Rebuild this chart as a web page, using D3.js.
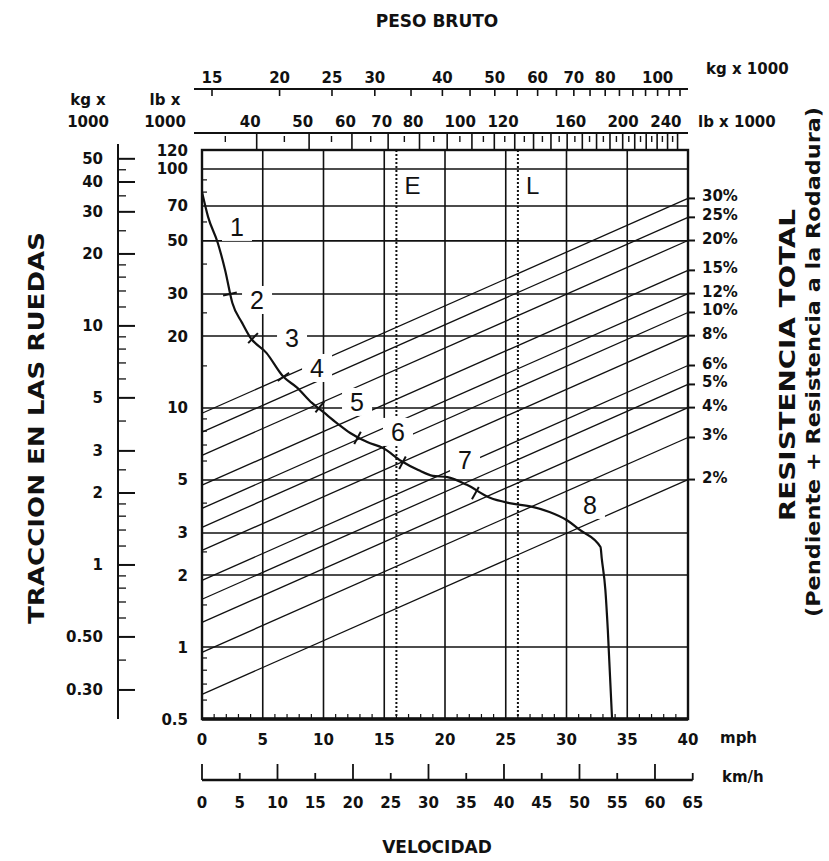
<!DOCTYPE html>
<html><head><meta charset="utf-8">
<script src="https://cdn.jsdelivr.net/npm/d3@7"></script>
<style>body{margin:0;background:#fff}svg{display:block}</style>
</head><body><svg id="c" width="829" height="861"></svg>
<script>
// ---------------- data ----------------
const LB_PER_KG = 2.20462, KMH_PER_MPH = 1.609344;
const mphTicks = [0,5,10,15,20,25,30,35,40];
const mphGrid = [5,10,15,20,25,30,35];
const mphMinor = [1,2,3,4,6,7,8,9,11,12,13,14,16,17,18,19,21,22,23,24,26,27,28,29,31,32,33,34,36,37,38,39];
const kmhTicks = [0,5,10,15,20,25,30,35,40,45,50,55,60,65];
const kmhLong = [0,10,20,30,40,50,60];
const rimGrid = [100,70,50,30,20,10,5,3,2,1];
const rimLabels = [120,100,70,50,30,20,10,5,3,2,1,0.5];
const rimMinor = [0.6,0.7,0.8,0.9,1.5,2.5,4,6,7,8,9,15,25,40,60,80,90];
const kgRimLabels = [50,40,30,20,10,5,3,2,1,0.5,0.3];
const kgRimText = ["50","40","30","20","10","5","3","2","1","0.50","0.30"];
const kgRimMinor = [0.4,0.6,0.7,0.8,0.9,1.2,1.4,1.6,1.8,2.5,4,6,7,8,9,12,14,16,18,25,35,45];
const kgWeightTicks = [15,20,25,30,35,40,45,50,55,60,65,70,75,80,85,90,95,100,105,110];
const kgWeightLabels = [15,20,25,30,40,50,60,70,80,100];
const lbWeightMajor = [40,50,60,70,80,90,100,110,120,130,140,150,160,170,180,190,200,210,220,230,240];
const lbWeightMinor = [35,45,55,65,75,85,95,105,115,125,135,145,155,165,175,185,195,205,215,225,235];
const lbWeightLabels = [40,50,60,70,80,100,120,160,200,240];
const grades = [30,25,20,15,12,10,8,6,5,4,3,2];
const curveMph = [0,0.5,1.3,1.9,2.5,3.3,3.95,5.3,6.7,7.8,9.05,10.0,11.1,12.2,13.6,14.9,16.4,17.8,19.0,20.2,21.8,23.7,25.3,27.2,28.6,30.0,31.1,32.8,32.9,33.2,33.4,33.75];
const curveRim = [80,63,49,37.8,27.5,22.7,19.8,17.0,13.5,12.2,10.5,9.6,8.65,7.86,7.2,6.8,6.0,5.5,5.2,5.14,4.77,4.21,4.0,3.86,3.67,3.4,3.09,2.62,2.35,1.73,1.18,0.5];
const gearNames = ["1","2","3","4","5","6","7","8"];
const gearMph = [2.88,4.53,7.41,9.47,12.76,16.13,21.65,31.93];
const gearRim = [57.2,28.3,19.6,14.7,10.6,7.94,6.06,3.93];
const shiftMph = [2.3,4.2,6.7,9.7,12.8,16.5,22.5];
const shiftRim = [30,19.6,13.5,10.1,7.5,5.9,4.4];
const loadNames = ["E","L"];
const loadMph = [16,26];
const loadLabelRim = 85;

// ---------------- scales ----------------
const x = d3.scaleLinear().domain([0,40]).range([202,688]);
const xKmh = d3.scaleLinear().domain([0,40*KMH_PER_MPH]).range([202,688]);
const yR = d3.scaleLog().domain([0.5,120]).range([719,150]);
const yKg = d3.scaleLog().domain([0.5/LB_PER_KG,120/LB_PER_KG]).range([719,150]);
const xKg = d3.scaleLog().domain([15,110]).range([212,680]);
const xLb = d3.scaleLog().domain([15*LB_PER_KG,110*LB_PER_KG]).range([212,680]);

const FONT = "'DejaVu Sans', Verdana, sans-serif";
const FONT2 = "'Liberation Sans', Arial, sans-serif";
const INK = "#111";
const svg = d3.select("#c");
const L = x(0), R = x(40), T = yR(120), B = yR(0.5);

function txt(p, xx, yy, s, size, opt={}) {
  return p.append("text").attr("x",xx).attr("y",yy).text(s)
    .attr("font-family", opt.family||FONT).attr("font-size",size)
    .attr("font-weight", opt.weight||"bold").attr("fill",INK)
    .attr("text-anchor", opt.anchor||"middle");
}

// ---------------- grid ----------------
const grid = svg.append("g").attr("stroke",INK).attr("stroke-width",1.6);
grid.selectAll(".v").data(mphGrid).join("line")
  .attr("x1",d=>x(d)).attr("x2",d=>x(d)).attr("y1",T).attr("y2",B);
grid.selectAll(".h").data(rimGrid).join("line")
  .attr("x1",L).attr("x2",R).attr("y1",d=>yR(d)).attr("y2",d=>yR(d));
svg.append("g").selectAll("line").data(loadMph).join("line")
  .attr("x1",d=>x(d)).attr("x2",d=>x(d)).attr("y1",T).attr("y2",B)
  .attr("stroke",INK).attr("stroke-width",2).attr("stroke-dasharray","2,2");

// grade lines: rimpull = gross weight * grade
const gradeLine = g => d3.line()
  .x(m=>x(m)).y(m=>yR(xLb.invert(x(m))*g/100));
svg.append("g").selectAll("path").data(grades).join("path")
  .attr("d",g=>gradeLine(g)([0,40])).attr("fill","none")
  .attr("stroke",INK).attr("stroke-width",1.3);

// label backgrounds (gaps in lines)
const gl = svg.append("g");
gearNames.forEach((n,i)=>{
  const cx = x(gearMph[i]), cy = yR(gearRim[i]);
  gl.append("rect").attr("x",cx-15).attr("y",cy-14).attr("width",30).attr("height",28).attr("fill","#fff");
});

// curve
svg.append("path").datum(curveMph.map((m,i)=>[m,curveRim[i]]))
  .attr("d",d3.line().x(d=>x(d[0])).y(d=>yR(d[1])).curve(d3.curveMonotoneX))
  .attr("fill","none").attr("stroke",INK).attr("stroke-width",2.2);
// shift marks
shiftMph.forEach((m,i)=>{
  const px = x(m), py = yR(shiftRim[i]);
  let j = 1; while (j < curveMph.length-1 && curveMph[j] < m) j++;
  const dx = x(curveMph[j])-x(curveMph[j-1]), dy = yR(curveRim[j])-yR(curveRim[j-1]);
  const len = Math.hypot(dx,dy), nx = -dy/len*7, ny = dx/len*7;
  svg.append("line").attr("x1",px-nx).attr("y1",py-ny).attr("x2",px+nx).attr("y2",py+ny)
    .attr("stroke",INK).attr("stroke-width",2);
});

// gear labels
gearNames.forEach((n,i)=>{
  txt(gl, x(gearMph[i]), yR(gearRim[i]), n, 25, {family:FONT2, weight:"normal"}).attr("dy","0.36em");
});
loadNames.forEach((n,i)=>{
  txt(svg, x(loadMph[i])+8, yR(loadLabelRim), n, 24, {family:FONT2, weight:"normal", anchor:"start"}).attr("dy","0.36em");
});

// frame
svg.append("rect").attr("x",L).attr("y",T).attr("width",R-L).attr("height",B-T)
  .attr("fill","none").attr("stroke",INK).attr("stroke-width",2.4);
svg.append("line").attr("x1",L).attr("x2",R).attr("y1",B).attr("y2",B).attr("stroke",INK).attr("stroke-width",3.5);
// inner minor ticks
svg.append("g").selectAll("line").data(rimMinor).join("line")
  .attr("x1",L).attr("x2",L+5).attr("y1",d=>yR(d)).attr("y2",d=>yR(d)).attr("stroke",INK).attr("stroke-width",1.2);
svg.append("g").selectAll("line").data(mphMinor).join("line")
  .attr("x1",d=>x(d)).attr("x2",d=>x(d)).attr("y1",B).attr("y2",B-5).attr("stroke",INK).attr("stroke-width",1.2);

// inner rimpull labels (lb x 1000)
rimLabels.forEach(v=> txt(svg, 188, yR(v)+5.5, String(v), 15, {anchor:"end"}));

// outer kg axis
const ox = 118;
svg.append("line").attr("x1",ox).attr("x2",ox).attr("y1",T-6).attr("y2",B).attr("stroke",INK).attr("stroke-width",2);
svg.append("g").selectAll("line").data(kgRimLabels).join("line")
  .attr("x1",ox).attr("x2",ox+17).attr("y1",d=>yKg(d)).attr("y2",d=>yKg(d)).attr("stroke",INK).attr("stroke-width",2);
svg.append("g").selectAll("line").data(kgRimMinor).join("line")
  .attr("x1",ox).attr("x2",ox+8).attr("y1",d=>yKg(d)).attr("y2",d=>yKg(d)).attr("stroke",INK).attr("stroke-width",1.3);
kgRimLabels.forEach((v,i)=> txt(svg, 103, yKg(v)+5.5, kgRimText[i], 15, {anchor:"end"}));

// top kg weight axis
svg.append("line").attr("x1",194).attr("x2",R).attr("y1",89).attr("y2",89).attr("stroke",INK).attr("stroke-width",2);
svg.append("g").selectAll("line").data(kgWeightTicks).join("line")
  .attr("x1",d=>xKg(d)).attr("x2",d=>xKg(d)).attr("y1",89).attr("y2",96).attr("stroke",INK).attr("stroke-width",1.6);
kgWeightLabels.forEach(v=> txt(svg, xKg(v), 83, String(v), 15));
txt(svg, 706, 74, "kg x 1000", 15, {anchor:"start"});

// top lb weight axis
svg.append("line").attr("x1",194).attr("x2",R).attr("y1",133).attr("y2",133).attr("stroke",INK).attr("stroke-width",2);
svg.append("g").selectAll("line").data(lbWeightMajor).join("line")
  .attr("x1",d=>xLb(d)).attr("x2",d=>xLb(d)).attr("y1",133).attr("y2",T).attr("stroke",INK).attr("stroke-width",1.6);
svg.append("g").selectAll("line").data(lbWeightMinor).join("line")
  .attr("x1",d=>xLb(d)).attr("x2",d=>xLb(d)).attr("y1",136).attr("y2",142).attr("stroke",INK).attr("stroke-width",1.4);
lbWeightLabels.forEach(v=> txt(svg, xLb(v)+4, 127, String(v), 15, {anchor:"end"}));
txt(svg, 698, 127, "lb x 1000", 15, {anchor:"start"});

txt(svg, 88, 105, "kg x", 15); txt(svg, 88, 127, "1000", 15);
txt(svg, 165, 105, "lb x", 15); txt(svg, 165, 127, "1000", 15);

// grade labels on right
grades.forEach(g=>{
  const yy = yR(xLb.invert(R)*g/100);
  svg.append("line").attr("x1",R).attr("x2",R+7).attr("y1",yy).attr("y2",yy).attr("stroke",INK).attr("stroke-width",2);
  txt(svg, 702, yy+3, g+"%", 15, {anchor:"start"});
});

// bottom mph axis
mphTicks.forEach(v=> txt(svg, x(v), 745, String(v), 15));
txt(svg, 720, 743, "mph", 15, {anchor:"start"});
// km/h axis
const ky = 780;
svg.append("line").attr("x1",L).attr("x2",xKmh(65)).attr("y1",ky).attr("y2",ky).attr("stroke",INK).attr("stroke-width",2.4);
svg.append("g").selectAll("line").data(kmhTicks).join("line")
  .attr("x1",d=>xKmh(d)).attr("x2",d=>xKmh(d)).attr("y1",ky)
  .attr("y2",d=>kmhLong.includes(d)?ky-16:ky-7).attr("stroke",INK).attr("stroke-width",1.8);
kmhTicks.forEach(v=> txt(svg, xKmh(v), 808, String(v), 15));
txt(svg, 722, 782, "km/h", 15, {anchor:"start"});

// titles
txt(svg, 437, 27, "PESO BRUTO", 17);
txt(svg, 437, 853, "VELOCIDAD", 17);
txt(svg, 0, 0, "TRACCION EN LAS RUEDAS", 22).attr("transform","translate(44,428) rotate(-90)")
  .attr("textLength",392).attr("lengthAdjust","spacingAndGlyphs");
txt(svg, 0, 0, "RESISTENCIA TOTAL", 21).attr("transform","translate(795,365) rotate(-90)")
  .attr("textLength",312).attr("lengthAdjust","spacingAndGlyphs");
txt(svg, 0, 0, "(Pendiente + Resistencia a la Rodadura)", 19).attr("transform","translate(820,362) rotate(-90)")
  .attr("textLength",510).attr("lengthAdjust","spacingAndGlyphs");
</script></body></html>
